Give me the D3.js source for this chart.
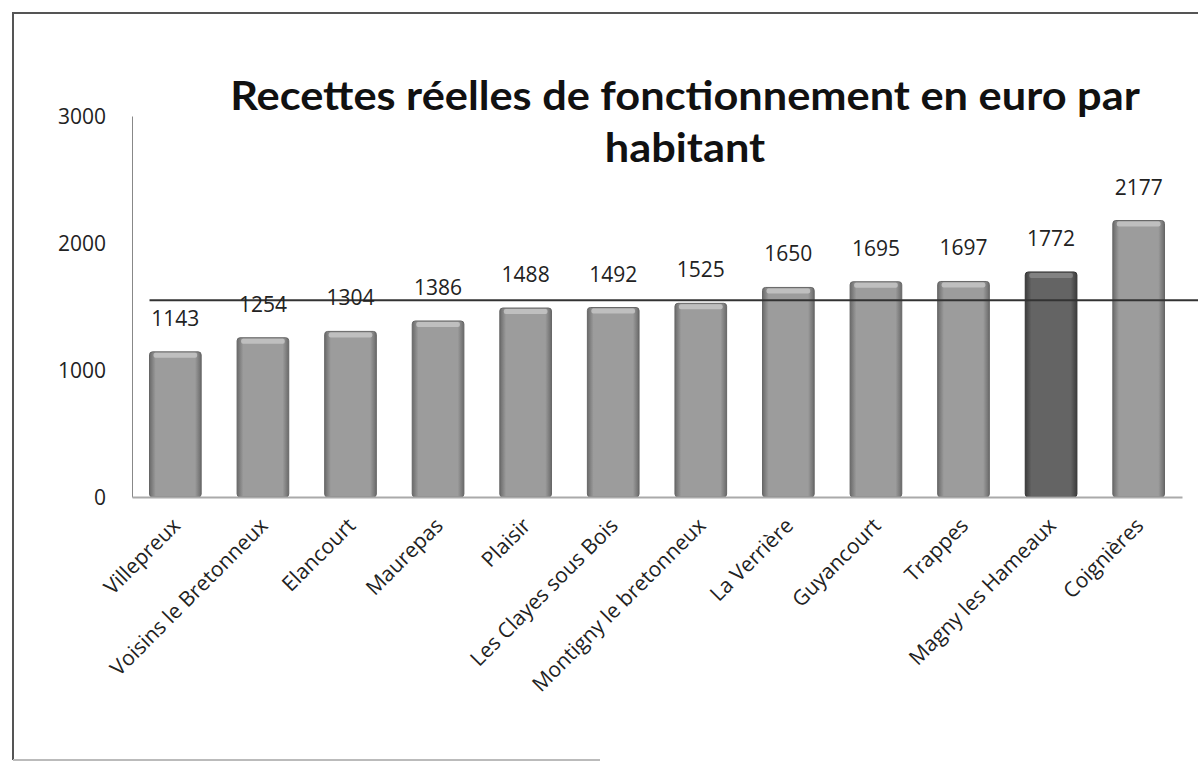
<!DOCTYPE html>
<html>
<head>
<meta charset="utf-8">
<script src="https://cdn.jsdelivr.net/npm/d3@7"></script>
<style>
  body { margin: 0; background: #fff; }
  text { font-family: "Open Sans", Lato, sans-serif; }
</style>
</head>
<body>
<div id="viz"></div>
<script>
// data
var communes = ["Villepreux", "Voisins le Bretonneux", "Elancourt", "Maurepas", "Plaisir",
  "Les Clayes sous Bois", "Montigny le bretonneux", "La Verrière", "Guyancourt", "Trappes",
  "Magny les Hameaux", "Coignières"];
var recettes = [1143, 1254, 1304, 1386, 1488, 1492, 1525, 1650, 1695, 1697, 1772, 2177];
var yTicks = [0, 1000, 2000, 3000];
var highlight = "Magny les Hameaux";
var titleLines = ["Recettes réelles de fonctionnement en euro par", "habitant"];

var width = 1198, height = 763;
var margin = { t: 116, l: 132, b: 266, r: 16 };

var svg = d3.select('#viz').append('svg')
  .attr('width', width)
  .attr('height', height);

// frame of the scanned chart
svg.append('path')
  .attr('d', 'M13,' + (height - 3) + 'V13H' + width)
  .attr('fill', 'none')
  .attr('stroke', '#555')
  .attr('stroke-width', 2);
svg.append('line')
  .attr('x1', 13).attr('x2', 600)
  .attr('y1', height - 3).attr('y2', height - 3)
  .attr('stroke', '#bbb').attr('stroke-width', 2);

var defs = svg.append('defs');
function barGrad(id, dark, light) {
  var g = defs.append('linearGradient').attr('id', id)
    .attr('x1', 0).attr('x2', 1).attr('y1', 0).attr('y2', 0);
  g.append('stop').attr('offset', '0%').attr('stop-color', dark);
  g.append('stop').attr('offset', '12%').attr('stop-color', light);
  g.append('stop').attr('offset', '88%').attr('stop-color', light);
  g.append('stop').attr('offset', '100%').attr('stop-color', dark);
}
barGrad('gNorm', '#6a6a6a', '#9c9c9c');
barGrad('gDark', '#3c3c3c', '#646464');

var x = d3.scaleBand()
  .domain(communes)
  .range([margin.l, width - margin.r])
  .paddingInner(0.41)
  .paddingOuter(0.2);

var y = d3.scaleLinear()
  .domain([0, 3000])
  .range([height - margin.b, margin.t]);

// y axis
var yAxis = svg.append('g')
  .attr('transform', `translate(${margin.l},0)`)
  .call(d3.axisLeft(y).tickValues(yTicks).tickFormat(d3.format('d')).tickSize(0).tickPadding(26));
yAxis.select('.domain').attr('stroke', '#888');
yAxis.selectAll('text')
  .style('font-size', '21px')
  .attr('fill', '#222')
  .attr('dy', '0.35em');

// bars
var bars = svg.append('g');
bars.selectAll('rect')
  .data(recettes)
  .join('rect')
  .attr('x', (d, i) => x(communes[i]))
  .attr('y', d => y(d))
  .attr('width', x.bandwidth())
  .attr('height', d => y(0) - y(d))
  .attr('rx', 3)
  .attr('fill', (d, i) => communes[i] === highlight ? 'url(#gDark)' : 'url(#gNorm)')
  .attr('stroke', (d, i) => communes[i] === highlight ? '#333' : '#666')
  .attr('stroke-width', 1);

// top bevel highlight
bars.selectAll('.bevel')
  .data(recettes)
  .join('rect')
  .attr('class', 'bevel')
  .attr('x', (d, i) => x(communes[i]) + 4)
  .attr('y', d => y(d) + 1)
  .attr('width', x.bandwidth() - 8)
  .attr('height', 5)
  .attr('rx', 2)
  .attr('fill', (d, i) => communes[i] === highlight ? '#8a8a8a' : '#c8c8c8')
  .attr('opacity', 0.8);

// x axis
var xAxis = svg.append('g')
  .attr('transform', `translate(0,${y(0)})`)
  .call(d3.axisBottom(x).tickSize(0).tickPadding(14));
xAxis.select('.domain').attr('stroke', '#aaa').attr('stroke-width', 2);
xAxis.selectAll('text')
  .style('font-size', '21px')
  .attr('fill', '#222')
  .attr('text-anchor', 'end')
  .attr('dx', '-0.8em')
  .attr('dy', '0.55em')
  .attr('transform', 'rotate(-45)');

// average line
var moyenne = d3.mean(recettes);
svg.append('line')
  .attr('x1', x(communes[0]))
  .attr('x2', width)
  .attr('y1', y(moyenne))
  .attr('y2', y(moyenne))
  .attr('stroke', '#333')
  .attr('stroke-width', 2);

// value labels
svg.append('g').selectAll('text')
  .data(recettes)
  .join('text')
  .attr('x', (d, i) => x(communes[i]) + x.bandwidth() / 2)
  .attr('y', d => y(d) - 26)
  .attr('text-anchor', 'middle')
  .style('font-size', '21px')
  .attr('fill', '#222')
  .text(d => d);

// title, squeezed to the width of the original (condensed bold font)
var gTitle = svg.append('g');
var tt = gTitle.selectAll('text')
  .data(titleLines)
  .join('text')
  .attr('x', 0)
  .attr('y', (d, i) => 110 + i * 52)
  .attr('text-anchor', 'middle')
  .style('font-size', '40px')
  .style('font-weight', 'bold')
  .style('font-family', 'Lato, sans-serif')
  .attr('fill', '#111')
  .text(d => d);
var len = tt.node().getComputedTextLength();
gTitle.attr('transform', `translate(685,0) scale(${910 / len},1)`);
</script>
</body>
</html>
